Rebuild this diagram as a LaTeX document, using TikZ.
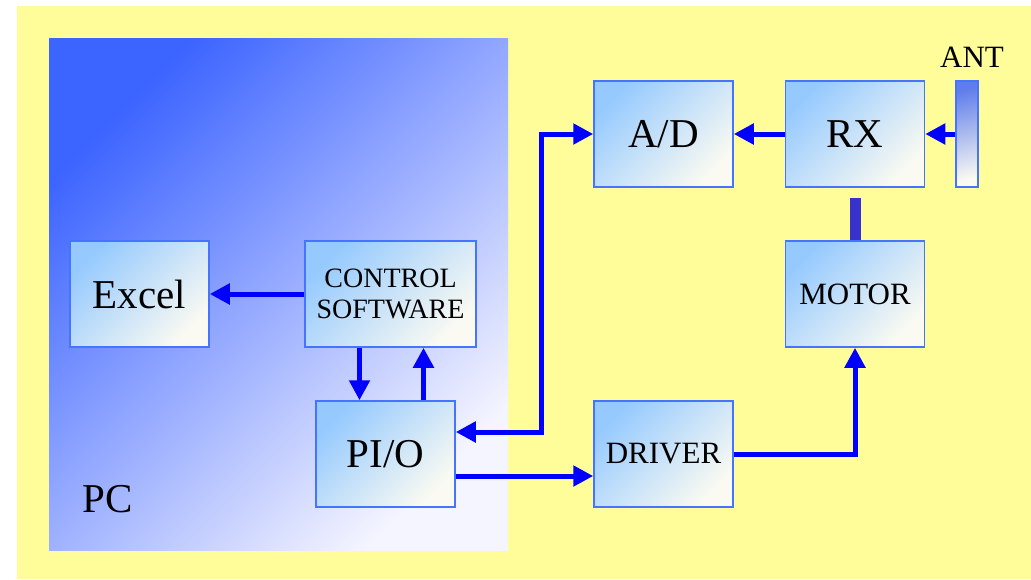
\documentclass[tikz,border=0pt]{standalone}
\usepackage{fontspec}
\setmainfont{Liberation Serif}
\usepackage{xcolor}
\usetikzlibrary{arrows.meta,calc}

\definecolor{bgyellow}{RGB}{255,253,153}
\definecolor{pcblue}{RGB}{60,100,255}
\definecolor{boxtop}{RGB}{150,202,255}
\definecolor{boxbot}{RGB}{250,250,242}
\definecolor{boxline}{RGB}{70,115,255}
\definecolor{wireblue}{RGB}{0,0,255}
\definecolor{linkblue}{RGB}{55,50,205}
\definecolor{antblue}{RGB}{95,125,235}

\begin{document}
\begin{tikzpicture}[x=0.5pt, y=-0.5pt,
  block/.style={rectangle, draw=boxline, line width=0.75pt, top color=boxtop, bottom color=boxbot,
    shading angle=45, align=center, minimum width=69.5pt, minimum height=53pt, inner sep=2pt},
  bigtxt/.style={font=\fontsize{20.5}{24}\selectfont},
  midtxt/.style={font=\fontsize{15.5}{18}\selectfont},
  smalltxt/.style={font=\fontsize{14}{16.5}\selectfont},
  arr/.style={-{Triangle[length=10pt, width=10pt]}, line width=2.5pt, draw=wireblue},
  arrboth/.style={{Triangle[length=10pt, width=10pt]}-{Triangle[length=10pt, width=10pt]},
    line width=2.5pt, draw=wireblue},
  link/.style={line width=5.5pt, draw=linkblue}
]

\useasboundingbox (0,0) rectangle (1031,579);
\fill[bgyellow] (17,6) rectangle (1031,579);
\shade[top color=pcblue, bottom color=white!96!blue, shading angle=45] (49,38) rectangle (508,550);

\node[bigtxt] (pclbl) at (108,499) {PC};

\node[block, bigtxt] (excel) at (139.5,294) {Excel};
\node[block, smalltxt, minimum width=85.5pt] (ctrl) at (390.5,294) {CONTROL\\[-1pt]SOFTWARE};
\node[block, bigtxt] (pio) at (385.5,454) {PI/O};
\node[block, midtxt] (driver) at (663.5,454) {DRIVER};
\node[block, bigtxt] (ad) at (663.5,134) {A/D};
\node[block, bigtxt] (rx) at (855,134) {RX};
\node[block, midtxt] (motor) at (855,294) {MOTOR};

\node[rectangle, draw=boxline, line width=0.75pt, top color=antblue, bottom color=boxbot,
  shading angle=15, minimum width=11pt, minimum height=53pt, inner sep=0pt] (ant) at (967,134) {};
\node[midtxt] (antlbl) at (972,57) {ANT};

\coordinate (bend) at (541,432);
\coordinate (rxstub) at (856,198);

\draw[arr] (ctrl) -- (excel);
\draw[arr] ($(ctrl.south)+(-31,0)$) coordinate (c1) -- (c1 |- pio.north);
\draw[arr] ($(pio.north)+(38,0)$) coordinate (c2) -- (c2 |- ctrl.south);
\draw[arrboth] (ad.west) -| (bend) -- (bend -| pio.east);
\draw[arr] ($(pio.east)+(0,22)$) coordinate (c3) -- (c3 -| driver.west);
\draw[arr] (driver.east) -| (motor.south);
\draw[arr] (rx) -- (ad);
\draw[arr] (ant) -- (rx);
\draw[link] (motor.north) -- (motor.north |- rxstub);

\end{tikzpicture}
\end{document}
